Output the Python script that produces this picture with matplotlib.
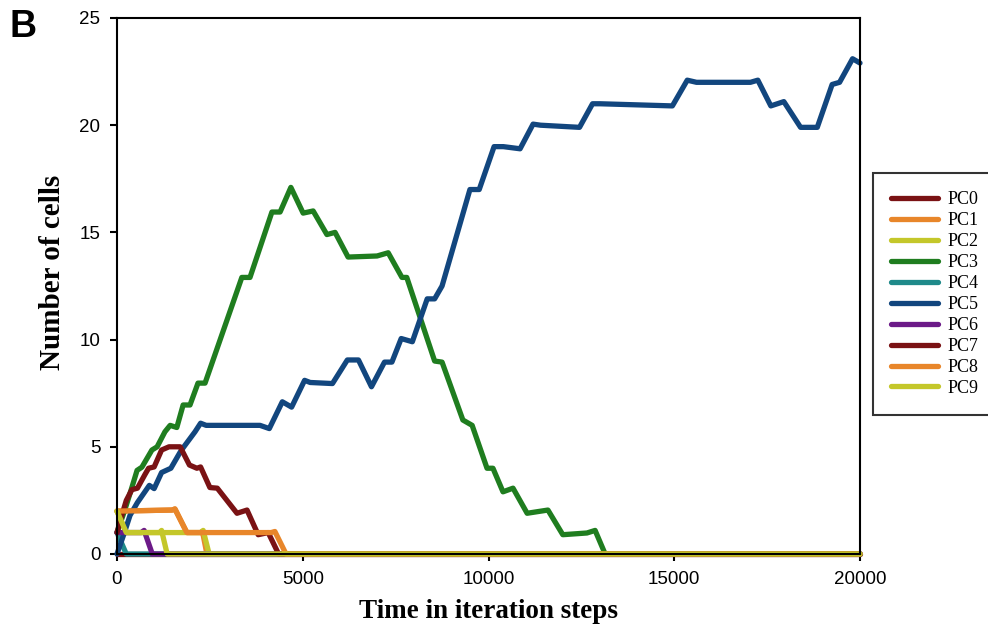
import numpy as np
import matplotlib
matplotlib.use("Agg")
import matplotlib.pyplot as plt

# series: (iteration step, number of cells)
pc0_x = [0, 20000]
pc0_y = [0, 0]

pc1_x = [0, 1480, 1560, 1880, 2250, 2300, 2420, 20000]
pc1_y = [2, 2.05, 2.1, 1.0, 1.0, 1.05, 0, 0]

pc2_x = [0, 250, 2250, 2320, 2480, 20000]
pc2_y = [2, 1, 1, 1.1, 0, 0]

pc3_x = [0, 200, 400, 540, 670, 940, 1080, 1290, 1430, 1610, 1780, 1965, 2180, 2370,
         3360, 3580, 4170, 4390, 4680, 5010, 5280, 5650, 5870, 6220, 7000, 7300, 7670,
         7800, 8550, 8750, 9310, 9560, 9960, 10120, 10390, 10660, 11040, 11600, 12000,
         12650, 12870, 13140, 20000]
pc3_y = [1, 2, 3.1, 3.9, 4.05, 4.85, 5.0, 5.7, 6.0, 5.9, 6.95, 6.95, 7.97, 7.97,
         12.9, 12.9, 15.95, 15.95, 17.1, 15.9, 16.0, 14.9, 15.0, 13.85, 13.9, 14.05, 12.9,
         12.9, 9.0, 8.95, 6.25, 6.0, 4.0, 4.0, 2.9, 3.07, 1.9, 2.05, 0.9,
         0.98, 1.1, 0, 0]

pc4_x = [0, 250, 20000]
pc4_y = [1, 0, 0]

pc5_x = [0, 200, 350, 550, 750, 870, 1000, 1200, 1450, 1700, 1800, 2100, 2250, 2400,
         3850, 4100, 4450, 4700, 5050, 5200, 5800, 6200, 6500, 6850, 7200, 7400, 7650,
         7950, 8350, 8550, 8750, 9100, 9500, 9750, 10150, 10400, 10850, 11200, 11400,
         12450, 12800, 13000, 14950, 15350, 15600, 17050, 17250, 17600, 17950, 18400,
         18850, 19250, 19450, 19800, 20000]
pc5_y = [0, 1.0, 1.8, 2.4, 2.9, 3.2, 3.05, 3.8, 4.0, 4.75, 5.0, 5.7, 6.1, 6.0,
         6.0, 5.85, 7.1, 6.85, 8.1, 8.0, 7.95, 9.05, 9.05, 7.8, 8.95, 8.95, 10.05,
         9.9, 11.9, 11.9, 12.5, 14.6, 17.0, 17.0, 19.0, 19.0, 18.9, 20.05, 20.0,
         19.9, 21.0, 21.0, 20.9, 22.1, 22.0, 22.0, 22.1, 20.9, 21.1, 19.9,
         19.9, 21.9, 22.0, 23.1, 22.9]

pc6_x = [0, 650, 730, 950, 20000]
pc6_y = [1, 1, 1.1, 0, 0]

pc7_x = [0, 130, 250, 400, 550, 750, 850, 1000, 1200, 1400, 1700, 1950, 2150, 2250,
         2500, 2700, 3230, 3500, 3800, 4070, 4350, 20000]
pc7_y = [1, 1.8, 2.5, 3.0, 3.07, 3.7, 4.0, 4.06, 4.85, 5.0, 5.0, 4.15, 4.0, 4.06,
         3.1, 3.07, 1.9, 2.05, 0.9, 1.0, 0, 0]

pc8_x = [0, 1480, 1560, 1880, 4150, 4250, 4550, 20000]
pc8_y = [2, 2.05, 2.1, 1.0, 1.0, 1.05, 0, 0]

pc9_x = [0, 250, 1150, 1200, 1350, 20000]
pc9_y = [2, 1, 1, 1.1, 0, 0]

labels = ["PC0", "PC1", "PC2", "PC3", "PC4", "PC5", "PC6", "PC7", "PC8", "PC9"]
colors = ["#7a1214", "#e8862a", "#c4c72a", "#1f7d1f", "#1f8a8a",
          "#12467e", "#6c1a88", "#7a1214", "#e8862a", "#c4c72a"]
xs = [pc0_x, pc1_x, pc2_x, pc3_x, pc4_x, pc5_x, pc6_x, pc7_x, pc8_x, pc9_x]
ys = [pc0_y, pc1_y, pc2_y, pc3_y, pc4_y, pc5_y, pc6_y, pc7_y, pc8_y, pc9_y]

fig = plt.figure(figsize=(9.88, 6.32), dpi=100)
ax = fig.add_axes([117/988, 1 - 554/632, (860-117)/988, (554-18)/632])

for x, y, c, lab in zip(xs, ys, colors, labels):
    ax.plot(x, y, color=c, lw=3.8, label=lab, solid_joinstyle="round",
            solid_capstyle="round", clip_on=False)

ax.set_xlim(0, 20000)
ax.set_ylim(0, 25)
ax.set_xticks([0, 5000, 10000, 15000, 20000])
ax.set_yticks([0, 5, 10, 15, 20, 25])
ax.tick_params(direction="out", length=5, width=1.5, pad=7, labelsize=13.5)
for lab in ax.get_xticklabels() + ax.get_yticklabels():
    lab.set_family("Liberation Sans")
for s in ax.spines.values():
    s.set_linewidth(1.5)

ax.set_xlabel("Time in iteration steps", family="Liberation Serif",
              fontweight="bold", fontsize=19.5, labelpad=8)
ax.set_ylabel("Number of cells", family="Liberation Serif",
              fontweight="bold", fontsize=21)
ax.yaxis.set_label_coords(-0.068, 0.525)

leg = ax.legend(loc="upper left", bbox_to_anchor=(873/988, 1 - 173/632),
                bbox_transform=fig.transFigure, frameon=True, fancybox=False,
                edgecolor="black", handlelength=2.6, handletextpad=0.5,
                labelspacing=0.22, borderpad=1.0, borderaxespad=0,
                prop={"family": "Liberation Serif", "size": 13})
leg.get_frame().set_linewidth(1.5)

fig.text(23/988, 1 - 27/632, "B", family="Liberation Sans", fontweight="bold",
         fontsize=27, ha="center", va="center")

fig.savefig("out.png", dpi=100)
